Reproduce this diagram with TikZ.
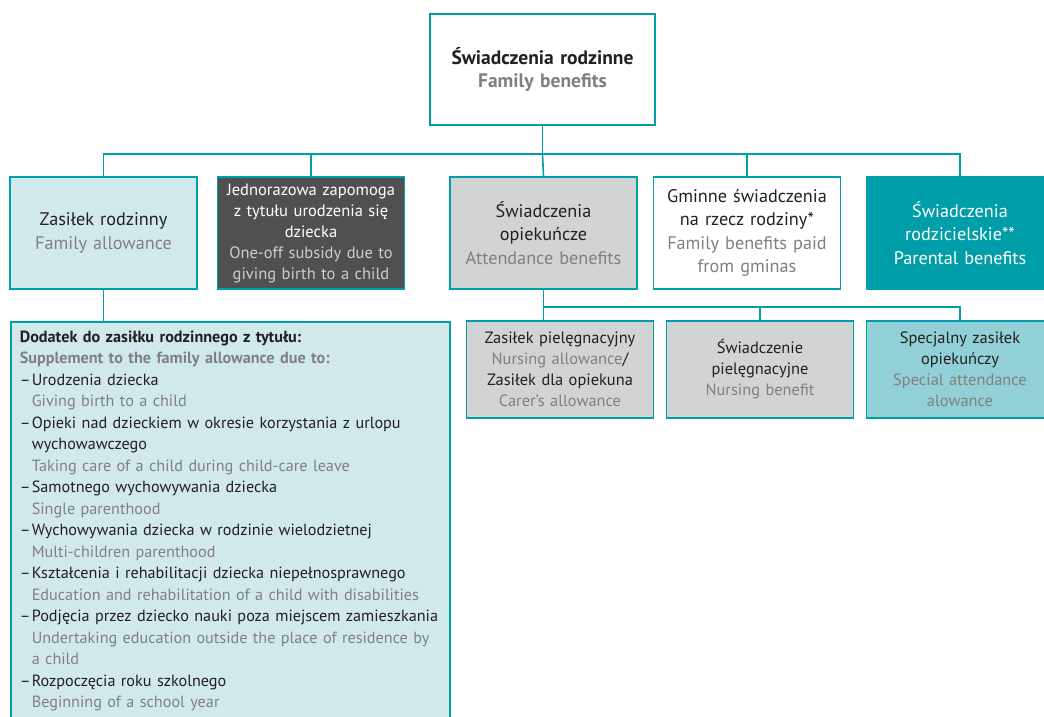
\documentclass[tikz,border=0pt]{standalone}
\usepackage{fontspec}
\setmainfont{PT Sans}
\usetikzlibrary{positioning}
\definecolor{tealline}{RGB}{0,158,168}
\definecolor{lightteal}{RGB}{209,233,235}
\definecolor{midteal}{RGB}{145,208,214}
\definecolor{darkbox}{RGB}{80,80,82}
\definecolor{greybox}{RGB}{209,211,212}
\definecolor{enggray}{RGB}{128,128,130}
\definecolor{englight}{RGB}{205,205,207}
\definecolor{textblack}{RGB}{35,31,32}
\newcommand{\engc}{\color{enggray}}
\newcommand{\suppitem}[1]{\makebox[12pt][l]{–}#1}
\newcommand{\suppline}[1]{\hspace*{12pt}{\engc #1}}
\tikzset{
    %Define style for connectors
    link/.style={
           draw=tealline,
           line width=1.6pt},
    %Define style for boxes
    rowbox/.style={
           rectangle,
           draw=tealline, line width=1.6pt,
           minimum width=187pt,
           minimum height=112pt,
           text width=179pt,
           inner sep=0pt,
           align=center,
           text=textblack,
           font=\fontsize{18.2}{23.5}\selectfont},
    subbox/.style={
           rowbox,
           minimum height=97pt,
           font=\fontsize{16.4}{21}\selectfont,
           fill=greybox},
    titlebox/.style={
           rowbox,
           minimum width=225pt,
           minimum height=111pt,
           text width=215pt,
           fill=white,
           font=\bfseries\fontsize{19.5}{23}\selectfont},
    suppbox/.style={
           rectangle,
           draw=tealline, line width=1.6pt,
           fill=lightteal,
           minimum width=439pt,
           text width=421pt,
           inner xsep=9pt, inner ysep=9pt,
           align=left,
           text=textblack,
           font=\fontsize{16.2}{21.5}\selectfont}
}
\begin{document}
\begin{tikzpicture}[x=1pt,y=-1pt]
\useasboundingbox (0,0) rectangle (1044,717);
\clip (0,0) rectangle (1044,717);

 %nodes

\node[titlebox](top) at (542.5,69.5){Świadczenia rodzinne\\{\engc Family benefits}};
\node[rowbox, fill=lightteal](zr) at (103.5,233){Zasiłek rodzinny\\{\engc Family allowance}};
\node[rowbox, fill=darkbox, text=white, font=\fontsize{16.5}{21}\selectfont](jed) at (311,233){Jednorazowa zapomoga\\z tytułu urodzenia się\\dziecka\\{\color{englight}One-off subsidy due to\\giving birth to a child}};
\node[rowbox, fill=greybox](opk) at (543.5,233){Świadczenia\\opiekuńcze\\{\engc Attendance benefits}};
\node[rowbox, fill=white](gmn) at (747,233){Gminne świadczenia\\na rzecz rodziny*\\{\engc Family benefits paid\\from gminas}};
\node[rowbox, fill=tealline, text=white](par) at (960,233){Świadczenia\\rodzicielskie**\\Parental benefits};

\node[subbox](pa) at (560,369.5){Zasiłek pielęgnacyjny\\{\engc Nursing allowance}/\\Zasiłek dla opiekuna\\{\engc Carer’s allowance}};
\node[subbox](pb) at (760,369.5){Świadczenie\\pielęgnacyjne\\{\engc Nursing benefit}};
\node[subbox, fill=midteal](pc) at (960,369.5){Specjalny zasiłek\\opiekuńczy\\{\engc Special attendance\\alowance}};

\node[suppbox, anchor=north west](supp) at (10,321){%
  \textbf{Dodatek do zasiłku rodzinnego z tytułu:}\\
  {\bfseries\engc Supplement to the family allowance due to:}\\
  \suppitem{Urodzenia dziecka}\\
  \suppline{Giving birth to a child}\\
  \suppitem{Opieki nad dzieckiem w okresie korzystania z urlopu}\\
  \hspace*{12pt}wychowawczego\\
  \suppline{Taking care of a child during child-care leave}\\
  \suppitem{Samotnego wychowywania dziecka}\\
  \suppline{Single parenthood}\\
  \suppitem{Wychowywania dziecka w rodzinie wielodzietnej}\\
  \suppline{Multi-children parenthood}\\
  \suppitem{Kształcenia i rehabilitacji dziecka niepełnosprawnego}\\
  \suppline{Education and rehabilitation of a child with disabilities}\\
  \suppitem{Podjęcia przez dziecko nauki poza miejscem zamieszkania}\\
  \suppline{Undertaking education outside the place of residence by}\\
  \suppline{a child}\\
  \suppitem{Rozpoczęcia roku szkolnego}\\
  \suppline{Beginning of a school year}\\[20pt]
  \mbox{}};

 %connectors

\draw[link] (top.south) -- ++(0,28) coordinate (hub);
\draw[link] (zr.north) |- (hub) -| (par.north);
\draw[link] (hub) -| (jed.north);
\draw[link] (hub) -- (opk.north);
\draw[link] (hub) -| (gmn.north);
\draw[link] (zr.south) -- (zr.south |- supp.north);
\draw[link] (opk.south) -- (opk.south |- pa.north);
\draw[link] (opk.south) -- ++(0,17) coordinate (hub2) -| (pc.north);
\draw[link] (hub2) -| (pb.north);

\end{tikzpicture}
\end{document}
